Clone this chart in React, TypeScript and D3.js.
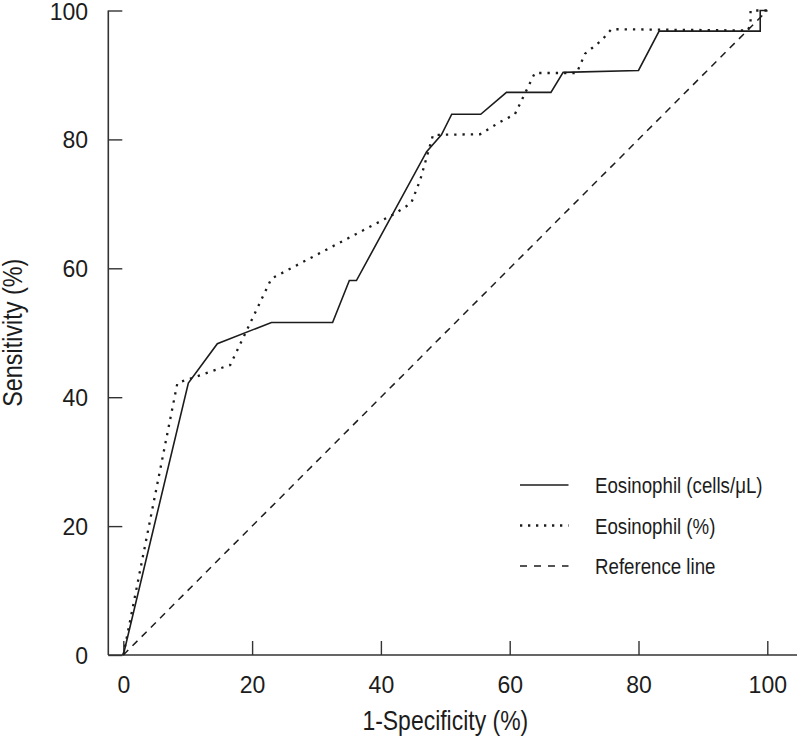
import React, { useEffect, useRef } from 'react';
import * as d3 from 'd3';

// ROC curve points, [1-specificity %, sensitivity %]
const cellsCurve: [number, number][] = [
    [0, 0], [10.1, 42.2], [14.6, 48.3], [23.0, 51.6], [32.5, 51.6], [35.1, 58.1],
    [36.2, 58.1], [47.1, 78.1], [49.4, 80.7], [51.0, 83.9], [55.5, 83.9], [59.5, 87.3],
    [66.4, 87.3], [68.3, 90.4], [80.0, 90.7], [83.2, 96.8], [98.9, 96.8], [98.9, 100],
    [100, 100]
];

const percentCurve: [number, number][] = [
    [0, 0], [8.4, 42.2], [16.6, 45.0], [23.0, 58.4], [42.2, 68.5], [44.7, 70.1],
    [46.1, 73.7], [48.1, 80.7], [55.4, 80.8], [58.5, 82.7], [60.8, 83.9], [63.9, 90.3],
    [70.4, 90.3], [71.7, 93.3], [74.3, 95.4], [75.8, 97.1], [97.0, 96.9], [97.4, 98.0],
    [97.4, 100], [100, 100]
];

const referenceLine: [number, number][] = [[0, 0], [100, 100]];

const tickValues = [0, 20, 40, 60, 80, 100];

const legendLabels = ['Eosinophil (cells/\u03bcL)', 'Eosinophil (%)', 'Reference line'];

const W = 798, H = 740;
const font = '"Liberation Sans", Arial, Helvetica, sans-serif';
const narrow = 0.82; // condensed look, Liberation Sans squeezed sideways

export default function App() {
    const ref = useRef<SVGSVGElement>(null);

    useEffect(() => {
        const svg = d3.select(ref.current);
        svg.selectAll('*').remove();

        const x = d3.scaleLinear().domain([0, 100]).range([123.3, 767.3]);
        const y = d3.scaleLinear().domain([0, 100]).range([655, 10.5]);
        const axisX = 108.3;
        const ink = '#1c1c1c';

        // axis lines
        svg.append('line')
            .attr('x1', axisX).attr('x2', axisX)
            .attr('y1', y(100)).attr('y2', y(0))
            .attr('stroke', '#333').attr('stroke-width', 1.6);
        svg.append('line')
            .attr('x1', axisX).attr('x2', 797)
            .attr('y1', y(0)).attr('y2', y(0))
            .attr('stroke', '#333').attr('stroke-width', 1.6);

        // y axis ticks
        const gy = svg.append('g')
            .attr('transform', 'translate(' + axisX + ',0)')
            .call(d3.axisLeft(y).tickValues(tickValues).tickSize(-14).tickPadding(20.3));
        gy.select('.domain').remove();

        // x axis ticks
        const gx = svg.append('g')
            .attr('transform', 'translate(0,' + y(0) + ')')
            .call(d3.axisBottom(x).tickValues(tickValues).tickSize(-14).tickPadding(22));
        gx.select('.domain').remove();

        svg.selectAll('.tick line').attr('stroke', '#333').attr('stroke-width', 1.4);
        svg.selectAll('.tick text')
            .attr('fill', ink)
            .style('font-family', font)
            .style('font-size', '23px');
        gy.selectAll('.tick text').attr('dy', '0.37em');

        // axis titles
        svg.append('text')
            .attr('transform', 'translate(' + (x(0) + x(100)) / 2 + ',730) scale(' + narrow + ',1)')
            .attr('text-anchor', 'middle')
            .attr('fill', ink)
            .style('font-family', font).style('font-size', '28px')
            .text('1-Specificity (%)');
        svg.append('text')
            .attr('transform', 'translate(22,' + (y(0) + y(100)) / 2 + ') rotate(-90) scale(' + narrow + ',1)')
            .attr('text-anchor', 'middle')
            .attr('fill', ink)
            .style('font-family', font).style('font-size', '28.5px')
            .text('Sensitivity (%)');

        const line = d3.line<[number, number]>()
            .x(d => x(d[0]))
            .y(d => y(d[1]));

        const styles = [
            { width: 1.6, dash: null as string | null },
            { width: 2.3, dash: '2.3 6' },
            { width: 1.5, dash: '7 6' }
        ];

        [cellsCurve, percentCurve, referenceLine].forEach((data, i) => {
            svg.append('path')
                .datum(data)
                .attr('fill', 'none')
                .attr('stroke', ink)
                .attr('stroke-width', styles[i].width)
                .attr('stroke-dasharray', styles[i].dash)
                .attr('d', line);
        });

        // legend
        const legendY = [485, 525.5, 566];
        const legendDash = [null, '2.3 5.7', '7 7'];
        legendLabels.forEach((label, i) => {
            svg.append('line')
                .attr('x1', 520).attr('x2', 568.5)
                .attr('y1', legendY[i]).attr('y2', legendY[i])
                .attr('stroke', ink)
                .attr('stroke-width', styles[i].width)
                .attr('stroke-dasharray', legendDash[i]);
            svg.append('text')
                .attr('transform', 'translate(595,' + (legendY[i] + 8) + ') scale(' + narrow + ',1)')
                .attr('fill', ink)
                .style('font-family', font).style('font-size', '22.8px')
                .text(label);
        });
    }, []);

    return (
        <div style={{ position: 'absolute', left: 0, top: 0 }}>
            <svg ref={ref} width={W} height={H} style={{ display: 'block', background: '#fff' }} />
        </div>
    );
}
